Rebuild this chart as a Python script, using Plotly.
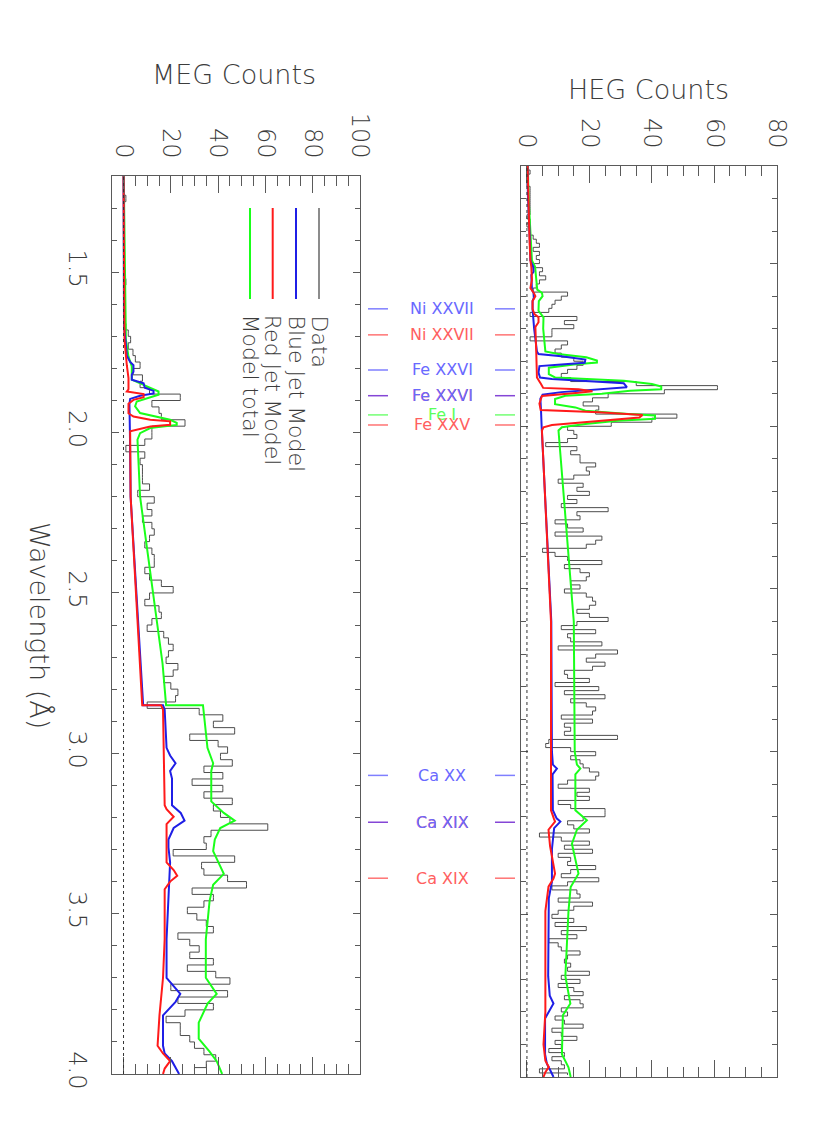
import plotly.graph_objects as go
import numpy as np

# ---------------- data ----------------
# HEG spectrum, 0.0125 A bins from 1.2 to 4.0 A
heg_counts = [
    0, 1, 0, 0, 0, 1, 1, 1, 1, 1, 1, 1, 0, 1, 0, 1,
    1, 2, 3, 4, 2, 4, 3, 4, 2, 5, 4, 6, 4, 3, 2, 13,
    11, 9, 8, 7, 1, 16, 12, 15, 8, 8, 1, 13, 11, 9, 11, 15,
    18, 16, 13, 11, 14, 35, 61, 44, 26, 21, 18, 23, 22, 48, 40, 27,
    13, 15, 16, 13, 6, 16, 14, 17, 17, 22, 19, 20, 15, 10, 18, 16,
    20, 13, 16, 11, 26, 16, 17, 9, 13, 18, 9, 24, 22, 19, 5, 9,
    13, 24, 12, 17, 20, 19, 14, 17, 12, 19, 21, 22, 20, 16, 20, 26,
    16, 11, 22, 13, 14, 24, 10, 29, 22, 19, 25, 21, 12, 13, 20, 9,
    23, 12, 25, 14, 19, 22, 21, 11, 21, 12, 14, 12, 29, 7, 6, 14,
    22, 14, 17, 18, 20, 23, 22, 13, 10, 20, 16, 20, 10, 14, 25, 25,
    18, 13, 15, 20, 4, 11, 20, 12, 21, 10, 14, 13, 22, 14, 11, 23,
    13, 8, 16, 17, 10, 21, 15, 10, 8, 15, 9, 19, 11, 16, 7, 10,
    11, 17, 13, 12, 14, 13, 20, 11, 17, 10, 15, 18, 12, 17, 18, 11,
    13, 9, 12, 18, 8, 11, 16, 9, 11, 7, 12, 8, 11, 12, 4, 13,
]
heg_wave = 1.2 + 0.0125 * (np.arange(len(heg_counts)) + 0.5)

# MEG spectrum, 0.02 A bins from 1.2 to 4.0 A
meg_counts = [
    0, 0, 0, 1, 0, 0, 0, 0, 0, 0,
    0, 0, 0, 0, 0, 0, 1, 0, 0, 0,
    0, 0, 0, 1, 2, 3, 2, 4, 5, 7,
    4, 8, 7, 11, 24, 12, 15, 16, 26, 12,
    12, 9, 1, 9, 7, 8, 8, 8, 11, 6,
    13, 10, 12, 8, 12, 13, 11, 9, 12, 13,
    13, 9, 11, 16, 21, 11, 9, 15, 16, 12,
    10, 17, 19, 21, 19, 18, 23, 21, 17, 20,
    23, 22, 10, 32, 42, 38, 47, 28, 40, 44,
    41, 46, 34, 42, 29, 42, 34, 46, 38, 41,
    45, 61, 37, 34, 35, 21, 47, 33, 34, 44,
    52, 29, 38, 34, 27, 31, 35, 38, 23, 28,
    32, 28, 38, 27, 39, 45, 20, 44, 23, 38,
    26, 18, 24, 24, 28, 30, 34, 39, 35, 30,
]
meg_wave = 1.2 + 0.02 * (np.arange(len(meg_counts)) + 0.5)

# HEG model curves (wavelength, counts)
heg_blue_wave = [1.2, 1.29, 1.42, 1.49, 1.51, 1.525, 1.535, 1.58, 1.59, 1.605, 1.615, 1.64,
                 1.70, 1.77, 1.778, 1.785, 1.795, 1.805, 1.81, 1.815, 1.835, 1.85, 1.855,
                 1.862, 1.868, 1.88, 1.888, 1.895, 1.903, 1.915, 1.95, 2.0, 2.6, 3.0, 3.04,
                 3.052, 3.07, 3.18, 3.205, 3.215, 3.235, 3.3, 3.4, 3.45, 3.69, 3.75, 3.774,
                 3.80, 3.82, 3.93, 3.96, 3.98, 4.0]
heg_blue = [0.2, 0.3, 0.9, 1.1, 2.0, 2.1, 1.4, 1.6, 2.1, 2.2, 1.8, 1.8,
            2.3, 3.2, 3.7, 11, 18.7, 18.5, 11, 4.0, 3.7, 4.2, 8,
            20, 31, 32, 22, 11, 5.0, 4.3, 4.5, 4.7, 7.8, 8.0, 8.3,
            9.6, 8.2, 8.3, 9.5, 10.7, 8.7, 8.0, 8.0, 7.0, 6.8, 7.3, 8.5,
            7.0, 5.8, 5.8, 6.4, 7.5, 8.5]

heg_red_wave = [1.2, 1.29, 1.42, 1.49, 1.51, 1.55, 1.575, 1.59, 1.60, 1.615, 1.64, 1.655,
                1.665, 1.68, 1.695, 1.78, 1.85, 1.87, 1.882, 1.886, 1.892, 1.897, 1.902,
                1.907, 1.93, 1.95, 1.957, 1.965, 1.973, 1.98, 1.99, 1.996, 2.003, 2.013,
                2.6, 3.18, 3.205, 3.215, 3.24, 3.29, 3.375, 3.39, 3.415, 3.49, 3.80, 3.90,
                3.95, 3.969, 3.985, 4.0]
heg_red = [0.2, 0.4, 0.8, 1.1, 1.4, 1.6, 1.1, 2.2, 2.7, 1.8, 1.8, 2.4,
           3.7, 3.7, 2.7, 3.0, 3.2, 4.5, 5.2, 16.5, 21, 16.5, 10,
           4.8, 4.0, 4.4, 23, 37, 36, 28, 16.5, 8, 5.3, 4.8,
           7.7, 7.7, 8.6, 9.0, 6.9, 7.4, 9.0, 8.5, 6.9, 5.9, 5.9, 5.3,
           5.9, 7.0, 5.9, 5.3]

heg_total_wave = [1.2, 1.29, 1.42, 1.49, 1.51, 1.53, 1.553, 1.58, 1.59, 1.60, 1.615, 1.645,
                  1.665, 1.68, 1.70, 1.77, 1.778, 1.788, 1.798, 1.804, 1.81, 1.82, 1.84,
                  1.85, 1.86, 1.87, 1.878, 1.886, 1.891, 1.90, 1.906, 1.916, 1.932, 1.942,
                  1.952, 1.962, 1.967, 1.977, 1.983, 1.993, 2.003, 2.013, 2.6, 3.0, 3.04,
                  3.052, 3.07, 3.18, 3.211, 3.24, 3.283, 3.375, 3.416, 3.49, 3.69, 3.774,
                  3.81, 3.93, 3.97, 4.0]
heg_total = [0.3, 0.5, 1.2, 1.6, 2.6, 2.8, 3.2, 3.3, 4.8, 5.0, 3.8, 3.7,
             5.3, 5.3, 5.2, 5.9, 10, 19, 22.4, 22.4, 15, 7.0, 7.0,
             9.0, 31, 40, 43, 43, 33, 24, 12.3, 9.0, 9.0, 15.5,
             18.7, 32.5, 41, 41, 29, 18.7, 11.2, 10.1, 15.0, 15.3, 16.0,
             17.1, 15.5, 15.5, 19.2, 16.0, 14.4, 16.5, 14.0, 13.3, 12.3, 13.9,
             11.5, 11.2, 13.3, 14.0]

# MEG model curves (wavelength, counts)
meg_blue_wave = [1.2, 1.67, 1.71, 1.76, 1.78, 1.79, 1.81, 1.82, 1.835, 1.846, 1.86, 1.87,
                 1.878, 1.885, 1.895, 1.91, 2.0, 2.2, 2.85, 2.85, 2.864, 2.983, 3.007,
                 3.031, 3.055, 3.079, 3.162, 3.186, 3.21, 3.233, 3.269, 3.293, 3.34, 3.46,
                 3.58, 3.70, 3.72, 3.75, 3.775, 3.793, 3.817, 3.912, 3.936, 3.96, 4.0]
meg_blue = [0, 0.2, 0.8, 1.4, 2.8, 4.2, 4.2, 3.5, 3.5, 8.5, 9.0, 12.7,
            12.7, 7, 2.8, 2.5, 2.7, 3.0, 8.3, 16.7, 17.4, 18.2, 19.7,
            22, 19.7, 20.5, 20.5, 24.2, 25.8, 21.2, 19, 19, 19.7, 19,
            18.2, 18.2, 20.5, 24, 22, 19.7, 16.7, 16.7, 17.4, 20.5, 23.5]

meg_red_wave = [1.2, 1.71, 1.79, 1.83, 1.865, 1.872, 1.88, 1.89, 1.898, 1.91, 1.94, 1.95,
                1.96, 1.965, 1.976, 1.981, 1.996, 2.02, 2.2, 2.85, 2.85, 2.864, 3.162,
                3.174, 3.198, 3.221, 3.245, 3.34, 3.364, 3.382, 3.40, 3.424, 3.579, 3.70,
                3.817, 3.912, 3.936, 3.96, 3.983, 4.0]
meg_red = [0, 0.4, 1.4, 2.1, 2.1, 1.4, 8.5, 8.5, 4.2, 2.1, 2.1, 4.2,
           11.3, 19.7, 19.7, 11.3, 2.8, 2.8, 3.0, 7.9, 15.9, 16.7, 17.4,
           18.2, 21.2, 18.2, 18.2, 18.2, 21.2, 22.7, 19.7, 17.4, 17.4, 16.7,
           15.2, 14.4, 16.7, 19.7, 17.4, 16.7]

meg_total_wave = [1.2, 1.71, 1.763, 1.794, 1.815, 1.835, 1.856, 1.872, 1.882, 1.893, 1.903,
                  1.918, 1.939, 1.96, 1.97, 1.976, 1.986, 2.002, 2.022, 2.2, 2.5, 2.72,
                  2.85, 2.85, 2.983, 3.031, 3.055, 3.079, 3.15, 3.186, 3.21, 3.233, 3.269,
                  3.305, 3.34, 3.376, 3.41, 3.46, 3.58, 3.70, 3.75, 3.78, 3.84, 3.89, 3.93,
                  3.96, 4.0]
meg_total = [0.1, 1.0, 2.1, 3.5, 3.5, 3.5, 9.9, 14.8, 14.8, 9.9, 5.6,
             4.9, 7.0, 19.7, 22.5, 22.5, 11.3, 7.0, 5.9, 7.0, 12.5, 16.5,
             18.0, 33.6, 35.5, 37.9, 37.1, 37.1, 37.1, 42.4, 47, 40.9, 38.6,
             37.9, 40.2, 42.4, 37.9, 36.4, 34.8, 34.8, 39.4, 35.6, 31.8, 31.8, 36.4,
             39.4, 41.7]

# emission line identifications (HEG wavelength scale)
line_labels = ["Ni XXVII", "Ni XXVII", "Fe XXVI", "Fe XXVI", "Fe I", "Fe XXV",
               "Ca XX", "Ca XIX", "Ca XIX"]
line_waves = [1.639, 1.719, 1.827, 1.906, 1.965, 1.996, 3.073, 3.217, 3.389]
line_jets = ["blue", "red", "blue", "both", "rest", "red", "blue", "both", "red"]

legend_names = ["Data", "Blue Jet Model", "Red Jet Model", "Model total"]

# ---------------- styling ----------------
FW, FH = 822, 1119          # page body adds an 8px offset; keep figure inside window
OFF = 8


def px(p):
    return (p - OFF) / FW


def py(p):
    return 1 - (p - OFF) / FH


FONT = "DejaVu Sans"
W = 200
TXT = "#3c3c3c"
AX = "#5a5a5a"
c_data = "#4d4d4d"
c_blue = "#1f1fe6"
c_red = "#ff1a1a"
c_green = "#1aff1a"
jet_text = {"blue": ["rgb(105,105,255)"], "red": ["rgb(255,95,95)"],
            "both": ["rgb(255,95,95)", "rgb(105,105,255)"], "rest": ["rgb(90,255,90)"]}
jet_line = {"blue": "rgba(95,95,255,0.8)", "red": "rgba(255,80,80,0.8)",
            "both": "rgba(120,50,210,0.9)", "rest": "rgba(80,255,80,0.8)"}

fig = go.Figure()


def step(x, y, color, width, xa, ya):
    fig.add_trace(go.Scatter(x=x, y=y, mode="lines", xaxis=xa, yaxis=ya,
                             line=dict(color=color, width=width, shape="vhv"),
                             hoverinfo="skip", showlegend=False))


def curve(x, y, color, xa, ya):
    fig.add_trace(go.Scatter(x=x, y=y, mode="lines", xaxis=xa, yaxis=ya,
                             line=dict(color=color, width=2),
                             hoverinfo="skip", showlegend=False))


step(meg_counts, meg_wave, c_data, 1, "x", "y")
curve(meg_total, meg_total_wave, c_green, "x", "y")
curve(meg_blue, meg_blue_wave, c_blue, "x", "y")
curve(meg_red, meg_red_wave, c_red, "x", "y")

step(heg_counts, heg_wave, c_data, 1, "x2", "y2")
curve(heg_total, heg_total_wave, c_green, "x2", "y2")
curve(heg_blue, heg_blue_wave, c_blue, "x2", "y2")
curve(heg_red, heg_red_wave, c_red, "x2", "y2")

tickfont = dict(family=FONT, size=24, color=TXT, weight=W)


def count_axis(dom, rng, anchor):
    return dict(domain=dom, range=rng, anchor=anchor, side="top", tick0=0, dtick=20,
                ticks="inside", ticklen=17, tickwidth=1, tickcolor=AX,
                minor=dict(dtick=5, ticks="inside", ticklen=10, tickcolor=AX, tickwidth=1),
                showline=True, linecolor=AX, linewidth=1, mirror="ticks",
                showgrid=False, zeroline=False, tickangle=90, tickfont=tickfont,
                ticklabelstandoff=8, automargin=False)


def wave_axis(dom, anchor, labels):
    return dict(domain=dom, range=[4.0, 1.2], anchor=anchor, tick0=1.5, dtick=0.5,
                tickformat=".1f", ticks="inside", ticklen=7, tickwidth=1, tickcolor=AX,
                minor=dict(dtick=0.1, ticks="inside", ticklen=5, tickcolor=AX, tickwidth=1),
                showline=True, linecolor=AX, linewidth=1, mirror="ticks",
                showgrid=False, zeroline=False, tickangle=90, tickfont=tickfont,
                showticklabels=labels, ticklabelstandoff=13, automargin=False)


fig.update_layout(
    width=FW, height=FH,
    margin=dict(l=0, r=0, t=0, b=0, autoexpand=False),
    paper_bgcolor="white", plot_bgcolor="white",
    showlegend=False,
    xaxis=count_axis([px(111.7), px(360)], [-5, 100], "y"),
    yaxis=wave_axis([py(1074), py(176)], "x", True),
    xaxis2=count_axis([px(520.7), px(776.8)], [-2, 80], "y2"),
    yaxis2=wave_axis([py(1077), py(166)], "x2", False),
)

shapes = []
# dotted zero-count lines
for xr, yr in (("x", "y domain"), ("x2", "y2 domain")):
    shapes.append(dict(type="line", xref=xr, yref=yr, x0=0, x1=0, y0=0, y1=1,
                       line=dict(color="#333333", width=1, dash="dot")))

annotations = []
title_font = dict(family=FONT, size=27, color=TXT, weight=W)
# axis titles
annotations.append(dict(text="MEG Counts", x=px(234), y=py(75), xref="paper", yref="paper",
                        xanchor="center", yanchor="middle", showarrow=False, font=title_font))
annotations.append(dict(text="HEG Counts", x=px(648), y=py(90), xref="paper", yref="paper",
                        xanchor="center", yanchor="middle", showarrow=False, font=title_font))
annotations.append(dict(text="Wavelength (Å)", x=px(40), y=py(625), xref="paper",
                        yref="paper", xanchor="center", yanchor="middle", showarrow=False,
                        textangle=90, font=title_font))

# legend inside MEG panel
leg_colors = ["#8c8c8c", c_blue, c_red, c_green]
leg_x = [319, 296, 272.7, 250]
for name, col, xp in zip(legend_names, leg_colors, leg_x):
    shapes.append(dict(type="line", xref="paper", yref="paper", x0=px(xp), x1=px(xp),
                       y0=py(208), y1=py(299), line=dict(color=col, width=2)))
    annotations.append(dict(text=name, x=px(xp), y=py(313), xref="paper", yref="paper",
                            xanchor="center", yanchor="top", showarrow=False, textangle=90,
                            font=dict(family=FONT, size=22, color=TXT, weight=W)))

# line identifications between the panels
for lab, wv, jet in zip(line_labels, line_waves, line_jets):
    for x0, x1 in ((368, 388), (495, 515)):
        shapes.append(dict(type="line", xref="paper", yref="y2", x0=px(x0), x1=px(x1),
                           y0=wv, y1=wv, line=dict(color=jet_line[jet], width=1.5)))
    for tc in jet_text[jet]:
        annotations.append(dict(text=lab, x=px(442), y=wv, xref="paper", yref="y2",
                                xanchor="center", yanchor="middle", showarrow=False,
                                font=dict(family=FONT, size=16, color=tc)))

fig.update_layout(shapes=shapes, annotations=annotations)
fig.write_html("out.html")
